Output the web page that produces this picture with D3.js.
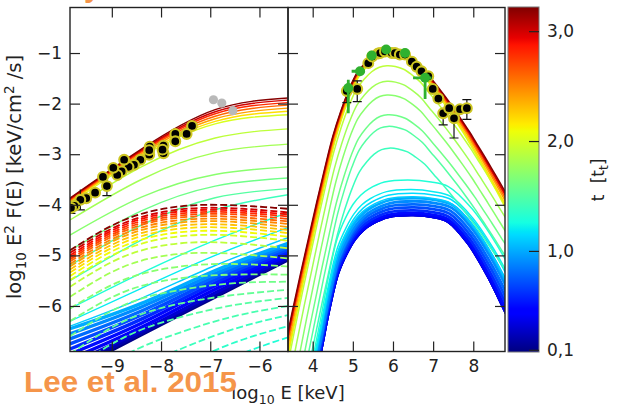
<!DOCTYPE html>
<html>
<head>
<meta charset="utf-8">
<script src="https://cdn.jsdelivr.net/npm/d3@7"></script>
<style>
  html, body { margin: 0; padding: 0; background: #fff; }
  svg { display: block; font-family: "DejaVu Sans", sans-serif; }
</style>
</head>
<body>
<svg id="chart" width="624" height="408"></svg>
<script>
// ---------------- axis ticks ----------------
const lowTicksX = [-9, -8, -7, -6];
const highTicksX = [4, 5, 6, 7, 8];
const ticksY = [-1, -2, -3, -4, -5, -6];
const timeTicks = [0.1, 1.0, 2.0, 3.0];
const timeTickLabels = ["0,1", "1,0", "2,0", "3,0"];

// ---------------- low-energy panel: synchrotron-like model (solid) ----------------
// log10 E²F at the energies of synGridE, one row per snapshot time
const synGridE = [-9.85, -8.4, -6.9, -5.42];
const synT = [0.1, 0.2, 0.3, 0.4, 0.5, 0.6, 0.7, 0.8, 0.9, 1.0, 1.1, 1.2, 1.3, 1.4, 1.5, 1.6, 1.7, 1.8, 1.9, 2.0, 2.2, 2.4, 2.6, 2.8, 3.0, 3.2];
const synY = [
  [-7.30, -6.57, -5.82, -5.09],
  [-7.23, -6.54, -5.79, -5.07],
  [-7.15, -6.49, -5.74, -5.04],
  [-7.05, -6.42, -5.67, -5.00],
  [-6.95, -6.34, -5.60, -4.96],
  [-6.85, -6.26, -5.54, -4.92],
  [-6.75, -6.18, -5.48, -4.88],
  [-6.65, -6.10, -5.42, -4.84],
  [-6.55, -6.02, -5.36, -4.80],
  [-6.45, -5.95, -5.30, -4.76],
  [-6.40, -5.85, -5.20, -4.65],
  [-6.30, -5.65, -5.00, -4.45],
  [-6.05, -5.35, -4.70, -4.15],
  [-5.50, -4.70, -4.10, -3.80],
  [-5.20, -4.40, -3.86, -3.68],
  [-4.90, -4.12, -3.63, -3.47],
  [-4.60, -3.85, -3.40, -3.25],
  [-4.30, -3.50, -2.97, -2.80],
  [-4.10, -3.25, -2.68, -2.50],
  [-3.98, -3.05, -2.40, -2.22],
  [-3.95, -3.02, -2.35, -2.15],
  [-3.93, -2.99, -2.30, -2.09],
  [-3.91, -2.96, -2.25, -2.03],
  [-3.895, -2.94, -2.20, -1.98],
  [-3.88, -2.92, -2.16, -1.93],
  [-3.87, -2.90, -2.12, -1.89]
];

// ---------------- low-energy panel: second component (dashed) ----------------
const icGridE = [-9.85, -8.75, -7.6, -6.5, -5.42];
const icT = [1.3, 1.35, 1.4, 1.45, 1.5, 1.55, 1.6, 1.65, 1.7, 1.8, 1.9, 2.0, 2.1, 2.2, 2.3, 2.4, 2.5, 2.6, 2.7, 2.8, 2.9, 3.0, 3.2];
const icY = [
  [-9.20, -8.30, -7.55, -7.00, -6.62],
  [-8.70, -7.85, -7.20, -6.72, -6.40],
  [-8.20, -7.40, -6.85, -6.45, -6.18],
  [-7.70, -6.98, -6.52, -6.20, -6.00],
  [-7.30, -6.62, -6.22, -5.98, -5.84],
  [-6.95, -6.30, -5.95, -5.78, -5.68],
  [-6.60, -5.98, -5.68, -5.55, -5.52],
  [-6.30, -5.72, -5.45, -5.38, -5.38],
  [-6.05, -5.48, -5.22, -5.17, -5.22],
  [-5.82, -5.22, -4.97, -4.97, -5.06],
  [-5.62, -5.02, -4.76, -4.76, -4.86],
  [-5.49, -4.89, -4.62, -4.61, -4.71],
  [-5.41, -4.81, -4.54, -4.53, -4.63],
  [-5.34, -4.74, -4.47, -4.46, -4.56],
  [-5.28, -4.68, -4.41, -4.40, -4.50],
  [-5.22, -4.62, -4.35, -4.34, -4.44],
  [-5.17, -4.57, -4.30, -4.29, -4.38],
  [-5.12, -4.52, -4.25, -4.24, -4.33],
  [-5.08, -4.48, -4.21, -4.19, -4.28],
  [-5.04, -4.44, -4.17, -4.15, -4.23],
  [-5.00, -4.40, -4.13, -4.11, -4.19],
  [-4.95, -4.36, -4.09, -4.07, -4.15],
  [-4.90, -4.30, -4.03, -4.01, -4.08]
];

// ---------------- high-energy panel: hump profiles ----------------
// drop below the peak (v) against distance from the peak in decades (u)
const lateProfileU = [-3.2, -3.0, -2.8, -2.6, -2.4, -2.2, -2.0, -1.8, -1.6, -1.4, -1.2, -1.0, -0.8, -0.6, -0.4, -0.2, 0, 0.2, 0.4, 0.6, 0.8, 1.0, 1.2, 1.4, 1.6, 1.8, 2.0, 2.2, 2.4, 2.6, 2.8, 3.0, 3.2, 3.4];
const lateProfileV = [8.0, 7.3, 6.6, 5.9, 5.15, 4.42, 3.72, 3.02, 2.35, 1.72, 1.22, 0.80, 0.47, 0.27, 0.12, 0.03, 0, 0.015, 0.07, 0.18, 0.32, 0.52, 0.72, 0.93, 1.15, 1.38, 1.62, 1.88, 2.14, 2.41, 2.68, 2.96, 3.25, 3.54];
const earlyProfileU = [-3.3, -3.1, -2.9, -2.7, -2.5, -2.29, -2.1, -1.87, -1.65, -1.45, -1.25, -1.04, -0.62, 0, 0.5, 0.87, 1.37, 1.87, 2.28, 2.6];
const earlyProfileV = [6.55, 5.75, 4.95, 4.2, 3.45, 2.67, 1.9, 1.15, 0.75, 0.48, 0.3, 0.18, 0.04, 0, 0.04, 0.13, 0.56, 1.22, 1.88, 2.4];

// one entry per snapshot: time, profile used, peak position/height, left/right widths
const hiT      = [0.1, 0.2, 0.3, 0.4, 0.5, 0.6, 0.7, 0.8, 0.9, 1.0, 1.1, 1.15, 1.2, 1.3, 1.4, 1.5, 1.6, 1.7, 1.8, 1.9, 2.0, 2.2, 2.4, 2.6, 2.8, 3.0, 3.2];
const hiShape  = ["early", "early", "early", "early", "early", "early", "early", "early", "early", "early", "early", "early", "early", "early",
                  "late", "late", "late", "late", "late", "late", "late", "late", "late", "late", "late", "late", "late"];
const hiPeakE  = [6.5, 6.5, 6.5, 6.5, 6.5, 6.51, 6.52, 6.53, 6.55, 6.55, 6.5, 6.5, 6.45, 6.37, 5.9, 5.87, 5.87, 5.85, 5.85, 5.85, 5.9, 5.9, 5.9, 5.9, 5.9, 5.9, 5.9];
const hiPeakY  = [-4.2, -4.2, -4.2, -4.2, -4.16, -4.11, -4.05, -3.99, -3.93, -3.87, -3.84, -3.77, -3.70, -3.51, -2.88, -2.45, -2.22, -1.83, -1.56, -1.25, -1.02, -0.99, -0.965, -0.95, -0.94, -0.935, -0.93];
const hiWidthL = [1, 1, 1, 1, 1, 1.005, 1.01, 1.015, 1.02, 1.03, 1.01, 1.0, 0.98, 0.94, 0.92, 0.89, 0.91, 0.91, 0.935, 0.95, 0.96, 0.965, 0.975, 0.985, 0.99, 0.995, 1.0];
const hiWidthR = [1, 1, 1, 1, 1.01, 1.02, 1.03, 1.04, 1.05, 1.06, 1.08, 1.1, 1.12, 1.16, 1.115, 1.08, 1.08, 1.05, 1.05, 1.035, 0.95, 0.955, 0.965, 0.975, 0.985, 0.99, 1.0];

// ---------------- observations ----------------
const opticalE = [-7.37, -7.48, -7.71, -7.71, -7.95, -7.95, -7.97, -8.23, -8.24, -8.24, -8.42, -8.55, -8.66, -8.75, -8.80, -8.89, -8.97, -9.18, -9.10, -9.34, -9.52, -9.64, -9.76, -9.83];
const opticalY = [-2.44, -2.60, -2.60, -2.745, -2.83, -2.98, -2.91, -2.85, -3.01, -2.92, -3.11, -3.21, -3.25, -3.11, -3.34, -3.41, -3.27, -3.45, -3.63, -3.76, -3.87, -3.90, -4.02, -4.06];
const opticalErr = [0, 0, 0, 0, 0, 0, 0, 0, 0, 0, 0, 0, 0, 0, 0, 0, 0, 0, 0.19, 0, 0, 0.2, 0, 0.11];
const archiveE = [-6.935, -6.765, -6.54];
const archiveY = [-1.924, -1.99, -2.14];

const xrayE = [4.85, 5.11, 5.385, 5.48, 5.63, 5.68, 5.8, 5.97, 6.05, 6.17, 6.3, 6.47, 6.59, 6.71, 6.88, 6.99, 7.13, 7.25, 7.40, 7.52, 7.67, 7.84];
const xrayY = [-1.75, -1.71, -1.20, -1.07, -1.01, -1.0, -0.97, -1.0, -1.0, -1.03, -1.03, -1.17, -1.27, -1.36, -1.46, -1.71, -1.90, -2.19, -2.09, -2.29, -2.11, -2.09];
const xrayErrLo = [0.23, 0.25, 0, 0, 0, 0, 0, 0, 0, 0, 0, 0, 0, 0, 0, 0, 0, 0.23, 0, 0.39, 0, 0.22];
const xrayErrHi = [0, 0.16, 0, 0, 0, 0, 0, 0, 0, 0, 0, 0, 0, 0, 0, 0, 0, 0, 0, 0, 0, 0.17];

const hardE = [4.887, 5.18, 5.47, 5.83, 6.30, 6.80];
const hardY = [-1.69, -1.36, -1.05, -0.93, -1.0, -1.49];
const hardErrELo = [0.05, 0.21, 0, 0, 0, 0.30];
const hardErrEHi = [0.05, 0.12, 0, 0, 0, 0.16];
const hardErrYLo = [0.50, 0, 0, 0, 0, 0.42];
const hardErrYHi = [0.16, 0, 0, 0, 0, 0.06];

// ---------------- layout ----------------
const svg = d3.select("#chart");
const plotTop = 7.5, plotBottom = 351.5;
const lowX = d3.scaleLinear().domain([-9.85, -5.42]).range([70, 288]);
const highX = d3.scaleLinear().domain([3.385, 8.79]).range([288, 505]);
const yS = d3.scaleLinear().domain([-6.9, -0.1]).range([plotBottom, plotTop]);
const cbar = { x0: 508, x1: 539 };
const tS = d3.scaleLinear().domain([0.08, 3.22]).range([352, 7]);

// jet colour map
const jetPos = [0, 0.11, 0.125, 0.34, 0.35, 0.375, 0.64, 0.65, 0.66, 0.89, 0.91, 1];
const jetCol = ["#000080", "#0000ff", "#0000ff", "#00dbff", "#00e6f7", "#15ffe2", "#efff08", "#f7f500", "#ffec00", "#ff1300", "#e80000", "#800000"];
const jet = d3.scaleLinear().domain(jetPos).range(jetCol).interpolate(d3.interpolateRgb).clamp(true);
const tColor = t => jet((t - tS.domain()[0]) / (tS.domain()[1] - tS.domain()[0]));

const defs = svg.append("defs");
defs.append("clipPath").attr("id", "clipLow").append("rect")
  .attr("x", 70).attr("y", plotTop).attr("width", 218).attr("height", plotBottom - plotTop);
defs.append("clipPath").attr("id", "clipHigh").append("rect")
  .attr("x", 288).attr("y", plotTop).attr("width", 217).attr("height", plotBottom - plotTop);

// ---------------- low-energy panel ----------------
const low = svg.append("g").attr("clip-path", "url(#clipLow)");
const synLine = d3.line().x((d, i) => lowX(synGridE[i])).y(d => yS(d)).curve(d3.curveNatural);
low.append("g").selectAll("path").data(synY).join("path")
  .attr("d", synLine)
  .attr("fill", "none")
  .attr("stroke", (d, i) => tColor(synT[i]))
  .attr("stroke-width", (d, i) => synT[i] <= 1.0 ? 3.4 : 1.4);

const icLine = d3.line().x((d, i) => lowX(icGridE[i])).y(d => yS(d)).curve(d3.curveNatural);
low.append("g").selectAll("path").data(icY).join("path")
  .attr("d", icLine)
  .attr("fill", "none")
  .attr("stroke", (d, i) => tColor(icT[i]))
  .attr("stroke-width", 1.8)
  .attr("stroke-dasharray", "7,3");

// optical error bars and points
const ring = "#cdc622";
const optG = low.append("g");
opticalE.forEach((e, i) => {
  if (!opticalErr[i]) return;
  const x = lowX(e), y0 = yS(opticalY[i] - opticalErr[i]), y1 = yS(opticalY[i] + opticalErr[i]);
  optG.append("line").attr("x1", x).attr("x2", x).attr("y1", y0).attr("y2", y1).attr("stroke", "#111").attr("stroke-width", 1.2);
  optG.append("line").attr("x1", x - 4.5).attr("x2", x + 4.5).attr("y1", y0).attr("y2", y0).attr("stroke", "#111").attr("stroke-width", 1.2);
});
optG.selectAll("circle.opt").data(opticalE).join("circle").attr("class", "opt")
  .attr("cx", d => lowX(d)).attr("cy", (d, i) => yS(opticalY[i])).attr("r", 4.9)
  .attr("fill", "#000").attr("stroke", ring).attr("stroke-width", 2.1);
optG.selectAll("circle.arc").data(archiveE).join("circle").attr("class", "arc")
  .attr("cx", d => lowX(d)).attr("cy", (d, i) => yS(archiveY[i])).attr("r", 4.6)
  .attr("fill", "#b9b9b9");

// ---------------- high-energy panel ----------------
const high = svg.append("g").attr("clip-path", "url(#clipHigh)");
const profiles = {
  late: { u: lateProfileU, v: lateProfileV },
  early: { u: earlyProfileU, v: earlyProfileV }
};
const humpLine = d3.line().x(d => highX(d[0])).y(d => yS(d[1])).curve(d3.curveCatmullRom.alpha(0.5));
const humps = hiT.map((t, i) => {
  const p = profiles[hiShape[i]];
  return p.u.map((u, k) => [hiPeakE[i] + u * (u < 0 ? hiWidthL[i] : hiWidthR[i]), hiPeakY[i] - p.v[k]]);
});
high.append("g").selectAll("path").data(humps).join("path")
  .attr("d", humpLine)
  .attr("fill", "none")
  .attr("stroke", (d, i) => tColor(hiT[i]))
  .attr("stroke-width", (d, i) => hiT[i] <= 1.0 ? 2.8 : 1.5);

const xrG = high.append("g");
xrayE.forEach((e, i) => {
  const x = highX(e);
  if (xrayErrLo[i]) {
    const yb = yS(xrayY[i] - xrayErrLo[i]);
    xrG.append("line").attr("x1", x).attr("x2", x).attr("y1", yS(xrayY[i])).attr("y2", yb).attr("stroke", "#111").attr("stroke-width", 1.2);
    xrG.append("line").attr("x1", x - 4.5).attr("x2", x + 4.5).attr("y1", yb).attr("y2", yb).attr("stroke", "#111").attr("stroke-width", 1.2);
  }
  if (xrayErrHi[i]) {
    const yt = yS(xrayY[i] + xrayErrHi[i]);
    xrG.append("line").attr("x1", x).attr("x2", x).attr("y1", yS(xrayY[i])).attr("y2", yt).attr("stroke", "#111").attr("stroke-width", 1.2);
    xrG.append("line").attr("x1", x - 4.5).attr("x2", x + 4.5).attr("y1", yt).attr("y2", yt).attr("stroke", "#111").attr("stroke-width", 1.2);
  }
});
xrG.selectAll("circle").data(xrayE).join("circle")
  .attr("cx", d => highX(d)).attr("cy", (d, i) => yS(xrayY[i])).attr("r", 4.9)
  .attr("fill", "#000").attr("stroke", ring).attr("stroke-width", 2.1);

const hdG = high.append("g");
const green = "#2fb12f";
hardE.forEach((e, i) => {
  const x = highX(e), y = yS(hardY[i]);
  if (hardErrYLo[i] || hardErrYHi[i])
    hdG.append("line").attr("x1", x).attr("x2", x).attr("y1", yS(hardY[i] - hardErrYLo[i])).attr("y2", yS(hardY[i] + hardErrYHi[i])).attr("stroke", green).attr("stroke-width", 2.8);
  if (hardErrELo[i] || hardErrEHi[i])
    hdG.append("line").attr("x1", highX(e - hardErrELo[i])).attr("x2", highX(e + hardErrEHi[i])).attr("y1", y).attr("y2", y).attr("stroke", green).attr("stroke-width", 2.8);
});
hdG.selectAll("circle").data(hardE).join("circle")
  .attr("cx", d => highX(d)).attr("cy", (d, i) => yS(hardY[i])).attr("r", 5)
  .attr("fill", green);

// ---------------- axes ----------------
const axisCol = "#222";
function styleAxis(g) {
  g.select(".domain").remove();
  g.selectAll(".tick line").attr("stroke", axisCol).attr("stroke-width", 1.2);
  g.selectAll(".tick text").attr("fill", "#222").style("font-size", "17px").style("font-family", "'DejaVu Sans', sans-serif");
}
const fmt = d3.format("d");
svg.append("g").attr("transform", `translate(0,${plotBottom})`)
  .call(d3.axisBottom(lowX).tickValues(lowTicksX).tickSize(-10).tickPadding(8).tickFormat(fmt)).call(styleAxis);
svg.append("g").attr("transform", `translate(0,${plotTop})`)
  .call(d3.axisTop(lowX).tickValues(lowTicksX).tickSize(-10).tickFormat("")).call(styleAxis);
svg.append("g").attr("transform", `translate(70,0)`)
  .call(d3.axisLeft(yS).tickValues(ticksY).tickSize(-10).tickPadding(8).tickFormat(fmt)).call(styleAxis);
svg.append("g").attr("transform", `translate(288,0)`)
  .call(d3.axisRight(yS).tickValues(ticksY).tickSize(-10).tickFormat("")).call(styleAxis);

svg.append("g").attr("transform", `translate(0,${plotBottom})`)
  .call(d3.axisBottom(highX).tickValues(highTicksX).tickSize(-10).tickPadding(8).tickFormat(fmt)).call(styleAxis);
svg.append("g").attr("transform", `translate(0,${plotTop})`)
  .call(d3.axisTop(highX).tickValues(highTicksX).tickSize(-10).tickFormat("")).call(styleAxis);
svg.append("g").attr("transform", `translate(288,0)`)
  .call(d3.axisLeft(yS).tickValues(ticksY).tickSize(-10).tickFormat("")).call(styleAxis);
svg.append("g").attr("transform", `translate(505,0)`)
  .call(d3.axisRight(yS).tickValues(ticksY).tickSize(-10).tickFormat("")).call(styleAxis);

svg.append("rect").attr("x", 70).attr("y", plotTop).attr("width", 218).attr("height", plotBottom - plotTop)
  .attr("fill", "none").attr("stroke", axisCol).attr("stroke-width", 1.4);
svg.append("rect").attr("x", 288).attr("y", plotTop).attr("width", 217).attr("height", plotBottom - plotTop)
  .attr("fill", "none").attr("stroke", axisCol).attr("stroke-width", 1.4);

// ---------------- colour bar ----------------
const grad = defs.append("linearGradient").attr("id", "jetGrad")
  .attr("x1", 0).attr("y1", 1).attr("x2", 0).attr("y2", 0);
grad.selectAll("stop").data(jetPos).join("stop")
  .attr("offset", d => d).attr("stop-color", (d, i) => jetCol[i]);
svg.append("rect").attr("x", cbar.x0).attr("y", tS.range()[1]).attr("width", cbar.x1 - cbar.x0)
  .attr("height", tS.range()[0] - tS.range()[1]).attr("fill", "url(#jetGrad)")
  .attr("stroke", "#777").attr("stroke-width", 1);
const cbAxis = svg.append("g").attr("transform", `translate(${cbar.x1},0)`)
  .call(d3.axisRight(tS).tickValues(timeTicks).tickSize(-10).tickPadding(9)
    .tickFormat((d, i) => timeTickLabels[i]));
styleAxis(cbAxis);
cbAxis.selectAll(".tick text").attr("x", 8);

// ---------------- labels ----------------
const yl = svg.append("text").attr("transform", "translate(21,177) rotate(-90)")
  .attr("text-anchor", "middle").attr("fill", "#222").style("font-size", "19.5px");
yl.append("tspan").text("log");
yl.append("tspan").attr("dy", 5).style("font-size", "13.5px").text("10");
yl.append("tspan").attr("dy", -5).text(" E");
yl.append("tspan").attr("dy", -7.5).style("font-size", "13.5px").text("2");
yl.append("tspan").attr("dy", 7.5).text(" F(E) [keV/cm");
yl.append("tspan").attr("dy", -7.5).style("font-size", "13.5px").text("2");
yl.append("tspan").attr("dy", 7.5).text(" /s]");

const xl = svg.append("text").attr("x", 288).attr("y", 399)
  .attr("text-anchor", "middle").attr("fill", "#222").style("font-size", "18px");
xl.append("tspan").text("log");
xl.append("tspan").attr("dy", 5).style("font-size", "12.5px").text("10");
xl.append("tspan").attr("dy", -5).text(" E [keV]");

const cl = svg.append("text").attr("transform", "translate(604,180) rotate(-90)")
  .attr("text-anchor", "middle").attr("fill", "#222").style("font-size", "17px");
cl.append("tspan").text("t");
cl.append("tspan").attr("dx", 6).text(" [t");
cl.append("tspan").attr("dy", 4).style("font-size", "12px").text("t");
cl.append("tspan").attr("dy", -4).text("]");

// citation overlay
const orange = "#f5954a";
svg.append("text").attr("x", 24).attr("y", 392).attr("fill", orange)
  .style("font-family", "'Liberation Sans', Arial, sans-serif").style("font-weight", "bold").style("font-size", "30px")
  .attr("textLength", 213).attr("lengthAdjust", "spacingAndGlyphs")
  .text("Lee et al. 2015");
svg.append("text").attr("x", 84).attr("y", -3).attr("fill", orange)
  .style("font-family", "'Liberation Sans', Arial, sans-serif").style("font-weight", "bold").style("font-size", "30px")
  .text("y");
</script>
</body>
</html>
